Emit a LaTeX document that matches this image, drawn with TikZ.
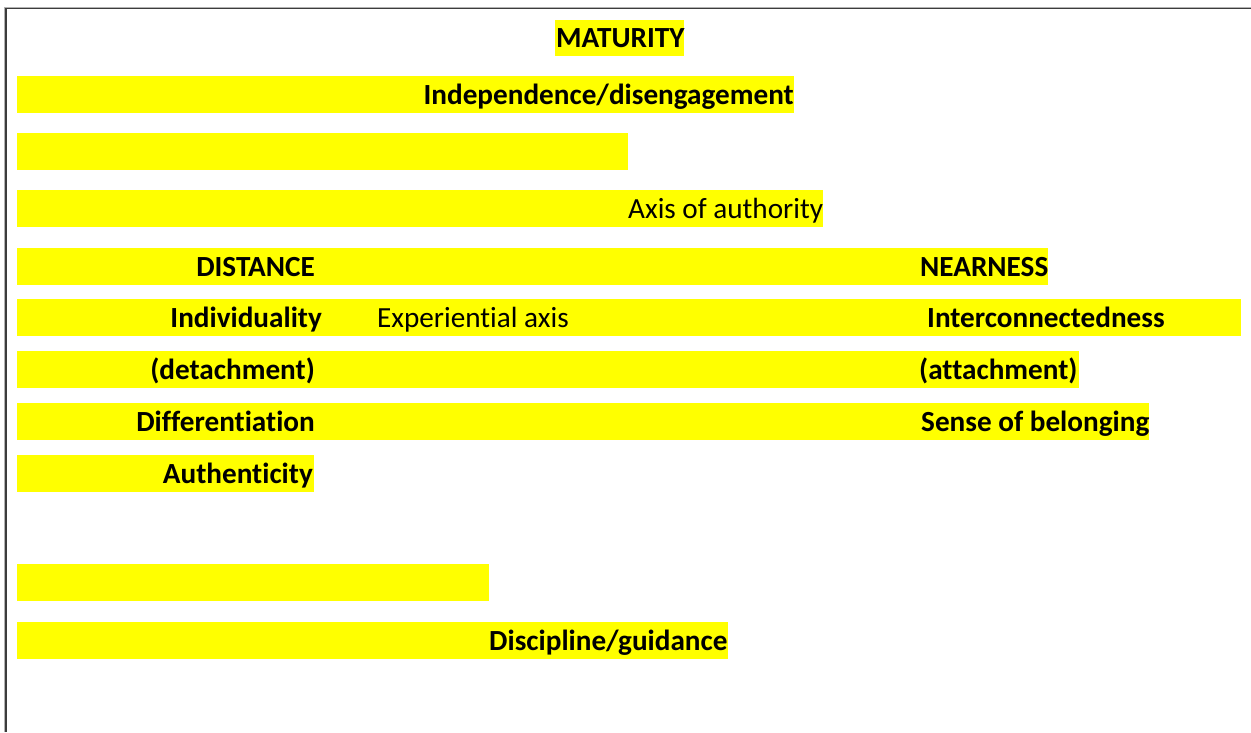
\documentclass[tikz,border=0pt]{standalone}
\usepackage{fontspec}
\setmainfont{Carlito}[Ligatures={NoCommon,NoRequired}, RawFeature={-liga;-clig;-dlig}]
\definecolor{hilite}{HTML}{FFFF00}
\definecolor{frameline}{HTML}{3C3C3C}
\tikzset{
  hl/.style={fill=hilite},
  lbl/.style={inner sep=0pt, font=\fontsize{29.2}{35}\selectfont\bfseries, text=black},
  plainlbl/.style={inner sep=0pt, font=\fontsize{29.2}{35}\selectfont, text=black},
}
\begin{document}
\begin{tikzpicture}[x=1pt,y=-1pt]
\useasboundingbox (0,0) rectangle (1251,732);
\fill[white] (0,0) rectangle (1251,732);

% page frame (left and top edges)
\draw[gray!60, line width=1pt] (4.6,732) -- (4.6,7) -- (1251,7);
\draw[frameline, line width=1.4pt] (6,732) -- (6,8.3) -- (1251,8.3);

% highlighted lines
\fill[hl] (555,20) rectangle (684,56);
\fill[hl] (17,76) rectangle (794,113);
\fill[hl] (17,133) rectangle (628,170);
\fill[hl] (17,190) rectangle (823,227);
\fill[hl] (17,248) rectangle (1048,285);
\fill[hl] (17,299) rectangle (1241,336);
\fill[hl] (17,351) rectangle (1079,388);
\fill[hl] (17,403) rectangle (1149,440);
\fill[hl] (17,455) rectangle (314,492);
\fill[hl] (17,564) rectangle (489,601);
\fill[hl] (17,622) rectangle (728,659);

% vertical axis
\node[lbl, anchor=base west] (maturity) at (556,47) {MATURITY};
\node[lbl, anchor=base east] (independence) at (794,104) {Independence/disengagement};
\node[plainlbl, anchor=base west] (authority) at (628,218) {Axis of authority};
\node[lbl, anchor=base west] (discipline) at (489,650) {Discipline/guidance};

% left pole
\node[lbl, anchor=base east] (distance) at (315,276) {DISTANCE};
\node[lbl, anchor=base east] (individuality) at (322,327) {Individuality};
\node[lbl, anchor=base east] (detachment) at (315,379) {(detachment)};
\node[lbl, anchor=base east] (differentiation) at (315,431) {Differentiation};
\node[lbl, anchor=base east] (authenticity) at (313,483) {Authenticity};

% horizontal axis
\node[plainlbl, anchor=base west] (experiential) at (377,327) {Experiential axis};

% right pole
\node[lbl, anchor=base west] (nearness) at (920,276) {NEARNESS};
\node[lbl, anchor=base west] (interconnect) at (927,327) {Interconnectedness};
\node[lbl, anchor=base west] (attachment) at (919,379) {(attachment)};
\node[lbl, anchor=base west] (belonging) at (921,431) {Sense of belonging};
\end{tikzpicture}
\end{document}
